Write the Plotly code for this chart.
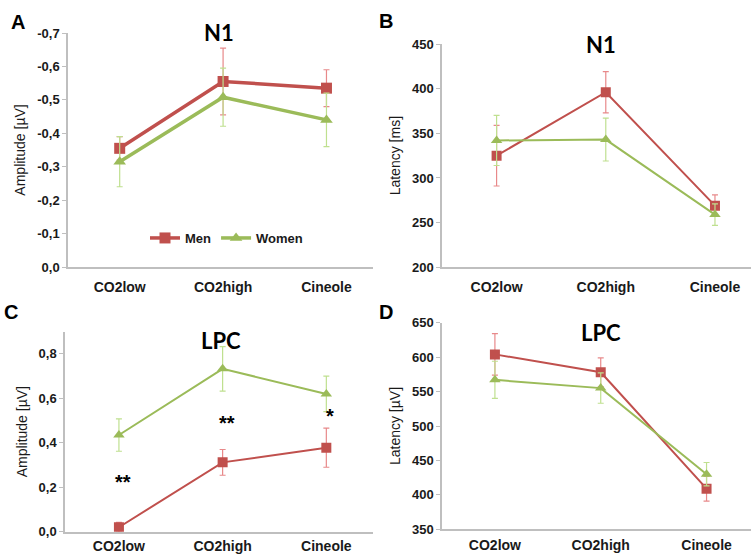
import plotly.graph_objects as go

W, H = 751, 554

categories = ["CO2low", "CO2high", "Cineole"]

# Panel A: N1 amplitude
a_men = [-0.355, -0.555, -0.535]
a_men_err = [0.035, 0.10, 0.055]
a_women = [-0.315, -0.508, -0.44]
a_women_err = [0.075, 0.087, 0.08]

# Panel B: N1 latency
b_men = [325, 396, 269]
b_men_err = [34, 23, 12]
b_women = [342, 343, 259]
b_women_err = [28, 24, 12]

# Panel C: LPC amplitude
c_men = [0.02, 0.312, 0.378]
c_men_err = [0.022, 0.058, 0.088]
c_women = [0.435, 0.733, 0.62]
c_women_err = [0.073, 0.1, 0.08]

# Panel D: LPC latency
d_men = [604, 578, 409]
d_men_err = [30, 21, 18]
d_women = [567, 555, 430]
d_women_err = [27, 22, 17]

a_ticks = [0.0, -0.1, -0.2, -0.3, -0.4, -0.5, -0.6, -0.7]
b_ticks = [200, 250, 300, 350, 400, 450]
c_ticks = [0.0, 0.2, 0.4, 0.6, 0.8]
d_ticks = [350, 400, 450, 500, 550, 600, 650]

sig_labels = ["**", "**", "*"]
sig_y = [0.224, 0.488, 0.52]

RED = "#c0504d"
RED_ERR = "#e8898a"
GREEN = "#9bbb59"
GREEN_ERR = "#bfe08f"
AXIS = "#bfbfbf"
FONT = "Liberation Sans, Arial, sans-serif"


def px(x):
    return x / W


def py(y):
    return 1 - y / H


def fmt(v):
    s = f"{v:.1f}".replace(".", ",")
    return s


fig = go.Figure()


def add_series(xa, ya, men, men_err, women, women_err, lw, ms, show):
    fig.add_trace(go.Scatter(
        x=categories, y=men, xaxis=xa, yaxis=ya, name="Men", mode="lines+markers",
        line=dict(color=RED, width=lw), marker=dict(symbol="square", size=ms, color=RED),
        error_y=dict(type="data", array=men_err, color=RED_ERR, thickness=1.2, width=3),
        showlegend=show, legendgroup="men"))
    fig.add_trace(go.Scatter(
        x=categories, y=women, xaxis=xa, yaxis=ya, name="Women", mode="lines+markers",
        line=dict(color=GREEN, width=lw), marker=dict(symbol="triangle-up", size=ms, color=GREEN),
        error_y=dict(type="data", array=women_err, color=GREEN_ERR, thickness=1.2, width=3),
        showlegend=show, legendgroup="women"))


add_series("x", "y", a_men, a_men_err, a_women, a_women_err, 3.5, 11, True)
add_series("x2", "y2", b_men, b_men_err, b_women, b_women_err, 2, 10, False)
add_series("x3", "y3", c_men, c_men_err, c_women, c_women_err, 2, 10, False)
add_series("x4", "y4", d_men, d_men_err, d_women, d_women_err, 2, 10, False)

tickfont = dict(family=FONT, size=13, color="#1a1a1a", weight="bold")
catfont = dict(family=FONT, size=14, color="#1a1a1a", weight="bold")
titlefont = dict(family=FONT, size=14, color="#1a1a1a")


def xaxis(domain, rng, anchor, standoff):
    return dict(domain=domain, range=rng, anchor=anchor, type="category",
                categoryorder="array", categoryarray=categories, automargin=False,
                showline=True, linecolor=AXIS, linewidth=1.5, showgrid=False,
                zeroline=False, ticks="", tickfont=catfont, ticklabelstandoff=standoff)


def yaxis(domain, rng, anchor, tv, tt, title):
    return dict(domain=domain, range=rng, anchor=anchor, tickvals=tv, ticktext=tt,
                automargin=False,
                showline=True, linecolor=AXIS, linewidth=1.5, showgrid=False,
                zeroline=False, ticks="outside", ticklen=4, tickcolor=AXIS,
                tickfont=tickfont, title=dict(text=title, font=titlefont, standoff=8))


fig.update_layout(
    width=W, height=H, paper_bgcolor="white", plot_bgcolor="white",
    margin=dict(l=0, r=0, t=0, b=0),
    xaxis=xaxis([px(68), px(373)], [-0.5, 2.45], "y", 6),
    yaxis=yaxis([py(267), py(33)], [0, -0.7], "x", a_ticks, [fmt(v) for v in a_ticks], "Amplitude [µV]"),
    xaxis2=xaxis([px(442), 1.0], [-0.5, 2.33], "y2", 6),
    yaxis2=yaxis([py(267.3), py(44)], [200, 450], "x2", b_ticks, [str(v) for v in b_ticks], "Latency [ms]"),
    xaxis3=xaxis([px(65), px(373)], [-0.52, 2.45], "y3", 1),
    yaxis3=yaxis([py(531.7), py(331.7)], [0, 0.9], "x3", c_ticks, [fmt(v) for v in c_ticks], "Amplitude [µV]"),
    xaxis4=xaxis([px(442), 1.0], [-0.5, 2.42], "y4", 2),
    yaxis4=yaxis([py(529.3), py(322.7)], [350, 650], "x4", d_ticks, [str(v) for v in d_ticks], "Latency [µV]"),
    legend=dict(orientation="h", x=px(145), y=py(238), xanchor="left", yanchor="middle",
                font=dict(family=FONT, size=13, color="#1a1a1a", weight="bold"),
                bgcolor="rgba(0,0,0,0)", itemwidth=30, tracegroupgap=0),
    showlegend=True,
)

annotations = []
for lab, (x, y) in zip(["A", "B", "C", "D"], [(18, 22), (386, 21), (11, 312), (386, 312)]):
    annotations.append(dict(text=lab, x=px(x), y=py(y), xref="paper", yref="paper",
                            showarrow=False, xanchor="center", yanchor="middle",
                            font=dict(family=FONT, size=20, color="black", weight="bold")))
for lab, (x, y) in zip(["N1", "N1", "LPC", "LPC"], [(219, 33), (601, 44), (221, 340), (601, 332)]):
    annotations.append(dict(text=lab, x=px(x), y=py(y), xref="paper", yref="paper",
                            showarrow=False, xanchor="center", yanchor="middle",
                            font=dict(family="Lato, Open Sans, sans-serif", size=22, color="black", weight="bold")))
for cat, lab, yv in zip(categories, sig_labels, sig_y):
    annotations.append(dict(text=lab, x=cat, y=yv, xref="x3", yref="y3", showarrow=False,
                            xanchor="center", yanchor="middle", xshift=4,
                            font=dict(family=FONT, size=20, color="black", weight="bold")))
fig.update_layout(annotations=annotations)

fig.write_html("out.html", config={"displayModeBar": False},
               post_script="document.body.style.margin='0';document.body.style.overflow='hidden';")
